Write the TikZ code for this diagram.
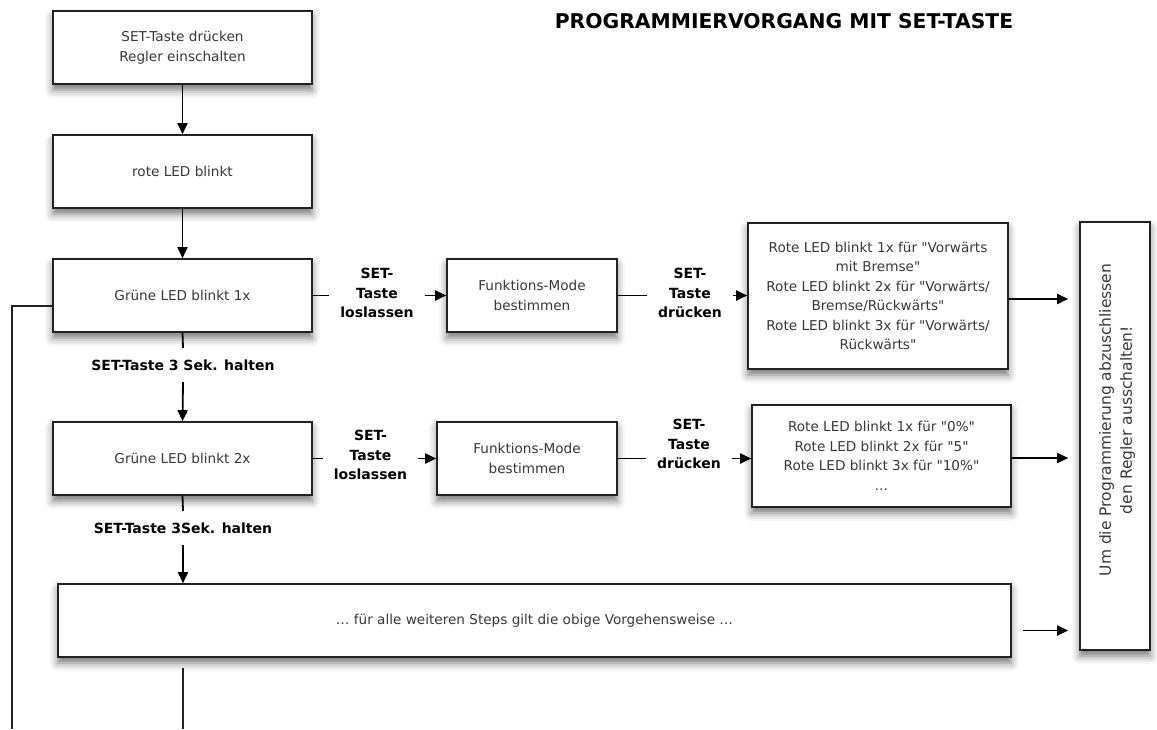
\documentclass[tikz,border=0pt]{standalone}
\usepackage{fontspec}
\newfontfamily\dv{DejaVu Sans}
\setmainfont{DejaVu Sans}
\usetikzlibrary{arrows.meta,shadows.blur}
\definecolor{txt}{HTML}{383838}
\definecolor{frame}{HTML}{222222}
\begin{document}
\begin{tikzpicture}[x=1pt,y=-1pt,
  box/.style={draw=frame, line width=1.6pt, fill=white, align=center, text=txt,
    font=\dv\fontsize{13.6}{19.5}\selectfont, inner sep=2pt,
    blur shadow={shadow xshift=0pt, shadow yshift=-6pt, shadow blur radius=8pt, shadow opacity=55}},
  lbl/.style={align=center, font=\dv\fontsize{14}{19.5}\selectfont\bfseries, text=black, inner xsep=11pt, inner ysep=0pt},
  hold/.style={align=center, font=\dv\fontsize{14}{16}\selectfont\bfseries, text=black, inner sep=0pt, minimum height=34pt},
  arr/.style={line width=1.8pt, draw=black, -{Triangle[length=11pt,width=10pt]}},
  ln/.style={line width=1.8pt, draw=black},
  thinln/.style={line width=1.3pt, draw=frame},
]
\useasboundingbox (0,0) rectangle (1157,729);

% title
\node[font=\dv\fontsize{20.3}{24}\selectfont\bfseries, text=black, inner sep=0pt] (title) at (784,21) {PROGRAMMIERVORGANG MIT SET-TASTE};

% left column
\node[box, minimum width=259pt, minimum height=73pt] (b1) at (182.5,47.5) {SET-Taste drücken\\Regler einschalten};
\node[box, minimum width=259pt, minimum height=73pt] (b2) at (182.5,171.5) {rote LED blinkt};
\node[box, minimum width=259pt, minimum height=73pt] (b3) at (182.5,295.5) {Grüne LED blinkt 1x};
\node[box, minimum width=259pt, minimum height=73pt] (b4) at (182.5,458.5) {Grüne LED blinkt 2x};
\node[box, minimum width=953pt, minimum height=73pt] (big) at (534.5,620.5) {… für alle weiteren Steps gilt die obige Vorgehensweise …};

% middle
\node[box, minimum width=170pt, minimum height=73pt] (fm1) at (532,295.5) {Funktions-Mode\\bestimmen};
\node[box, minimum width=180pt, minimum height=73pt] (fm2) at (527,458.5) {Funktions-Mode\\bestimmen};

% result boxes
\node[box, minimum width=260pt, minimum height=146pt] (r1) at (878,296) {Rote LED blinkt 1x für "Vorwärts\\mit Bremse"\\Rote LED blinkt 2x für "Vorwärts/\\Bremse/Rückwärts"\\Rote LED blinkt 3x für "Vorwärts/\\Rückwärts"};
\node[box, minimum width=259pt, minimum height=102pt] (r2) at (881.5,456) {Rote LED blinkt 1x für "0\%"\\Rote LED blinkt 2x für "5"\\Rote LED blinkt 3x für "10\%"\\…};

% right box
\node[box, minimum width=70pt, minimum height=428pt] (R) at (1115,436) {};
\node[rotate=90, align=center, text=txt, font=\dv\fontsize{15.5}{21}\selectfont, inner sep=0pt] (Rt) at (1117,420) {Um die Programmierung abzuschliessen\\den Regler ausschalten!};

% labels
\node[lbl] (l1) at (377,293) {SET-\\Taste\\loslassen};
\node[lbl] (l2) at (690,293) {SET-\\Taste\\drücken};
\node[lbl] (l3) at (370.5,455) {SET-\\Taste\\loslassen};
\node[lbl] (l4) at (689,444) {SET-\\Taste\\drücken};
\node[hold] (h1) at (183,365) {SET-Taste 3 Sek. halten};
\node[hold] (h2) at (183,528) {SET-Taste 3Sek. halten};

% connector end points on the right
\coordinate (o1) at ([yshift=-3pt]r1.east);
\coordinate (o2) at ([yshift=-2pt]r2.east);
\coordinate (o3) at ([yshift=-10pt]big.east);

% connectors
\draw[arr] (b1.south) -- (b2.north);
\draw[arr] (b2.south) -- (b3.north);
\draw[ln] (b3.east) -- (b3.east -| l1.west);
\draw[arr] (l1.east |- fm1.west) -- (fm1.west);
\draw[ln] (fm1.east) -- (fm1.east -| l2.west);
\draw[arr] (l2.east |- fm1.east) -- (r1.west |- fm1.east);
\draw[arr, shorten >=11pt] (o1) -- (R.west |- o1);

\draw[ln] (b3.south) -- (h1.north);
\draw[arr] (h1.south) -- (b4.north);
\draw[ln] (b4.east) -- (b4.east -| l3.west);
\draw[arr] (l3.east |- fm2.west) -- (fm2.west);
\draw[ln] (fm2.east) -- (fm2.east -| l4.west);
\draw[arr] (l4.east |- fm2.east) -- (r2.west |- fm2.east);
\draw[arr, shorten >=11pt] (o2) -- (R.west |- o2);

\draw[ln] (b4.south) -- (h2.north);
\draw[arr] (h2.south) -- (big.north -| h2.south);
\draw[arr, shorten <=11pt, shorten >=11pt] (o3) -- (R.west |- o3);

% loop-back line and bottom line
\coordinate (lpA) at (12,306);
\coordinate (lpB) at (12,729);
\draw[thinln] (b3.west |- lpA) -- (lpA) -- (lpB);
\coordinate (btm) at (183,729);
\draw[thinln, shorten <=10pt] (big.south -| btm) -- (btm);
\end{tikzpicture}
\end{document}
